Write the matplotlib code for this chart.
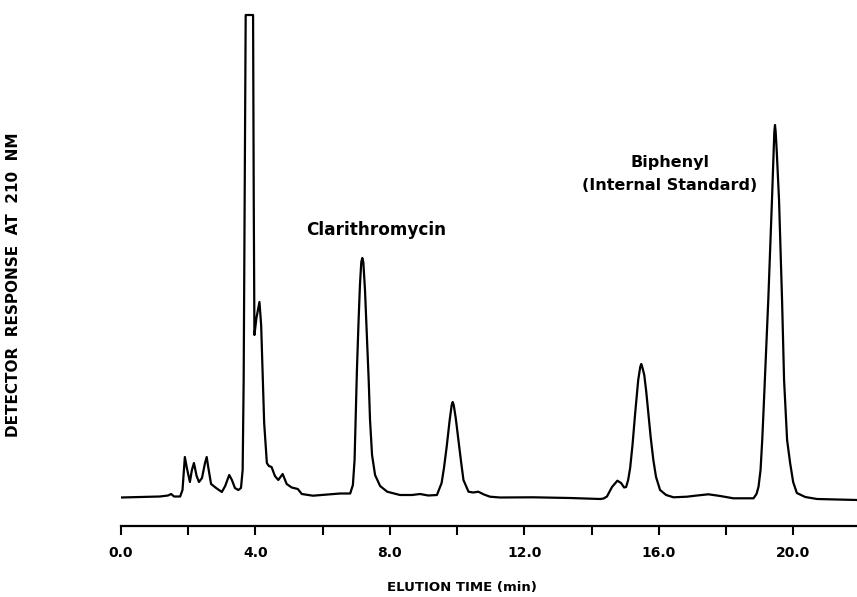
import numpy as np
import matplotlib
matplotlib.use("Agg")
import matplotlib.pyplot as plt

# Chromatogram trace: elution time (min) and detector
# response above baseline (arbitrary units, main peak at 3.7-3.9 min is off scale)
time_min = [
    0.00, 0.57, 1.16, 1.40, 1.49, 1.58, 1.76, 1.83, 1.90, 1.96,
    2.05, 2.11, 2.17, 2.25, 2.32, 2.41, 2.50, 2.55, 2.60, 2.68,
    2.83, 3.00, 3.10, 3.22, 3.30, 3.39, 3.49, 3.57, 3.62, 3.65,
    3.68, 3.71, 3.93, 3.95, 3.97, 4.03, 4.12, 4.17, 4.21, 4.26,
    4.34, 4.40, 4.48, 4.58, 4.68, 4.81, 4.93, 5.08, 5.26, 5.38,
    5.71, 6.31, 6.52, 6.82, 6.90, 6.95, 6.98, 7.02, 7.07, 7.11,
    7.15, 7.18, 7.21, 7.26, 7.32, 7.37, 7.41, 7.47, 7.56, 7.71,
    7.92, 8.30, 8.66, 8.90, 9.14, 9.40, 9.54, 9.61, 9.69, 9.78,
    9.84, 9.87, 9.90, 9.96, 10.04, 10.12, 10.19, 10.34, 10.48, 10.63,
    10.80, 10.98, 11.28, 12.26, 13.36, 14.26, 14.36, 14.46, 14.61, 14.77,
    14.88, 14.97, 15.03, 15.09, 15.15, 15.22, 15.30, 15.39, 15.45, 15.48,
    15.51, 15.57, 15.63, 15.69, 15.76, 15.84, 15.92, 16.04, 16.22, 16.44,
    16.84, 17.14, 17.48, 17.83, 18.22, 18.82, 18.91, 18.97, 19.03, 19.08,
    19.12, 19.17, 19.26, 19.37, 19.42, 19.44, 19.46, 19.48, 19.51, 19.58,
    19.67, 19.73, 19.82, 19.91, 20.00, 20.11, 20.36, 20.71, 21.90,
]
response = [
    -0.5, 0, 0.5, 1.5, 3, 0.5, 0.5, 7, 40, 29,
    15, 27, 34, 21, 15, 19, 34, 40, 29, 13,
    9, 5, 11, 22, 17, 9, 7, 9, 27, 117,
    297, 482, 482, 297, 162, 179, 195, 172, 127, 74,
    34, 31, 30, 21, 17, 23, 13, 9.5, 8, 3,
    1.3, 3, 3.5, 3.5, 12, 37, 77, 127, 177, 212,
    235, 239, 235, 207, 157, 117, 77, 42, 22, 11,
    5.3, 2, 2, 3, 1.5, 2, 14, 29, 50, 77,
    92, 95, 92, 79, 57, 35, 17, 5.3, 4.5, 5.3,
    2.5, 0.3, -0.5, -0.3, -1, -2, -1.5, 0.5, 10, 16.3,
    14, 9.5, 10, 17, 29, 52, 84, 117, 130, 133,
    130, 122, 105, 84, 60, 37, 20, 7, 2, -0.3,
    0.3, 1.5, 2.7, 1, -1.3, -1.3, 3, 10.3, 27, 57,
    87, 127, 197, 297, 347, 365, 372, 365, 347, 297,
    197, 117, 57, 34, 15, 4, 0, -2, -3,
]

major_ticks = [0.0, 4.0, 8.0, 12.0, 16.0, 20.0]
minor_ticks = [2.0, 6.0, 10.0, 14.0, 18.0]
tick_labels = ["0.0", "4.0", "8.0", "12.0", "16.0", "20.0"]

W, H = 857, 597
fig = plt.figure(figsize=(W / 100, H / 100), dpi=100)
ax = fig.add_axes([121 / W, 1 - 526 / H, 736 / W, 516 / H])

ax.plot(time_min, response, color="black", lw=1.6, solid_joinstyle="round")
ax.set_xlim(0, 21.9)
ax.set_ylim(-29, 487)

for s in ["top", "right", "left"]:
    ax.spines[s].set_visible(False)
ax.spines["bottom"].set_linewidth(1.6)
ax.set_yticks([])

ax.set_xticks(major_ticks)
ax.set_xticklabels(tick_labels, fontsize=10, fontweight="bold")
ax.set_xticks(minor_ticks, minor=True)
ax.tick_params(axis="x", which="both", direction="out", length=6.5, width=1.5, pad=8)

fig.text(462 / W, 1 - 588 / H, "ELUTION TIME (min)", ha="center", va="center",
         fontsize=9.5, fontweight="bold")
fig.text(14 / W, 1 - 285 / H, "DETECTOR  RESPONSE  AT  210  NM", ha="center", va="center",
         rotation=90, fontsize=11, fontweight="bold")

fig.text(376 / W, 1 - 230 / H, "Clarithromycin", ha="center", va="center",
         fontsize=12.2, fontweight="bold")
fig.text(670 / W, 1 - 163 / H, "Biphenyl", ha="center", va="center",
         fontsize=11.5, fontweight="bold")
fig.text(670 / W, 1 - 186 / H, "(Internal Standard)", ha="center", va="center",
         fontsize=11.5, fontweight="bold")

fig.savefig("out.png", dpi=100)
